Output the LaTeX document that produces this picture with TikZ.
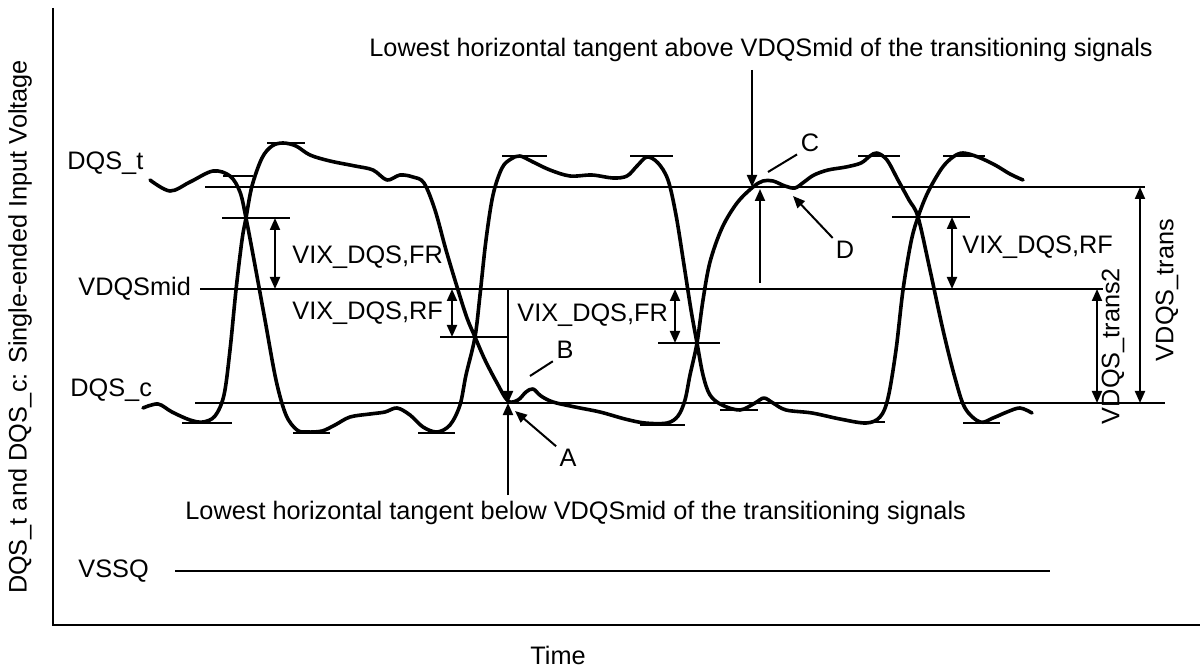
\documentclass[tikz,border=0pt]{standalone}
\usepackage{fontspec}
\setmainfont{Liberation Sans}
\usetikzlibrary{arrows.meta}

\begin{document}
\begin{tikzpicture}[x=0.5pt,y=-0.5pt,
		every node/.style={font=\fontsize{12.65}{15}\selectfont, inner sep=0pt},
		wave/.style={line width=1.8pt, line join=round, line cap=round},
		level/.style={line width=0.9pt},
		dim/.style={line width=1pt, {Triangle[length=6pt,width=5pt]}-{Triangle[length=6pt,width=5pt]}},
		pointer/.style={line width=1pt, -{Triangle[length=6pt,width=5pt]}}]
		\useasboundingbox (0,0) rectangle (1200,668);
		% axes
		\coordinate (ytop) at (53,8);
		\coordinate (org) at (53,625);
		\coordinate (xend) at (1200,625);
		\draw[line width=1.2pt] (ytop) -- (org) -- (xend);
		\node (ylab) [rotate=90] at (20,327) {DQS\_t and DQS\_c: Single-ended Input Voltage};
		\node (time) at (558,655) {Time};
		% level names
		\node (dqst) [anchor=west] at (67,163) {DQS\_t};
		\node (vmid) [anchor=west] at (78,289) {VDQSmid};
		\node (dqsc) [anchor=west] at (70,390) {DQS\_c};
		\node (vssq) [anchor=west] at (78,571) {VSSQ};
		% level lines
		\coordinate (hi0) at (205,187);   \coordinate (hi1) at (1145,187);
		\coordinate (mid0) at (200,289);  \coordinate (mid1) at (1103,289);
		\coordinate (lo0) at (195,403);   \coordinate (lo1) at (1165,403);
		\coordinate (ss0) at (175,571);   \coordinate (ss1) at (1050,571);
		\draw[level] (hi0) -- (hi1);
		\draw[level] (mid0) -- (mid1);
		\draw[level] (lo0) -- (lo1);
		\draw[line width=1.2pt] (ss0) -- (ss1);
		% the two signals
		\draw[wave] plot[smooth, tension=0.55] coordinates {(150,180) (170,191) (190,182) (213,171) (230,176) (240,192) (246,218) (254,260) (265,320) (276,380) (286,415) (297,430) (307,432) (322,431) (335,425) (350,417) (370,414) (385,412) (397,408) (410,415) (423,427) (437,432) (450,425) (460,405) (466,375) (475,337) (480,295) (486,240) (493,195) (502,168) (511,159) (520,156) (533,162) (550,170) (570,176) (592,175) (613,178) (627,176) (637,166) (647,157) (658,163) (668,180) (676,215) (684,265) (691,310) (697,343) (703,375) (710,395) (722,405) (740,410) (755,403) (764,398) (773,403) (786,410) (812,413) (840,419) (866,423) (880,417) (888,398) (896,350) (903,290) (911,242) (918,217) (928,192) (942,168) (953,157) (963,153) (978,157) (995,165) (1010,174) (1023,180)};
		\draw[wave] plot[smooth, tension=0.55] coordinates {(143,408) (158,404) (172,412) (190,420) (203,422) (215,416) (224,395) (230,350) (236,290) (242,240) (246,218) (252,186) (262,158) (272,146) (283,143) (296,146) (310,155) (330,161) (355,166) (373,170) (387,180) (400,175) (413,177) (424,183) (435,210) (446,250) (458,290) (467,318) (475,337) (485,360) (497,383) (508,401) (518,400) (526,392) (533,389) (541,396) (553,402) (575,407) (600,412) (625,419) (645,423) (667,423) (678,416) (685,400) (690,375) (697,343) (703,300) (710,262) (722,228) (737,203) (753,187) (763,181) (773,181) (785,186) (795,188) (804,182) (814,175) (828,170) (846,167) (861,163) (870,156) (877,153) (887,160) (898,180) (909,200) (918,217) (930,270) (943,330) (955,378) (965,408) (980,422) (993,418) (1007,412) (1020,408) (1032,413)};
		% tangent ticks
		\foreach \xa/\xb/\yy in {223/253/176, 267/305/143, 182/232/423, 293/330/433, 418/455/433,
				502/547/156, 630/673/156, 640/685/425, 720/758/410, 850/885/422, 858/900/156,
				943/985/156, 963/1000/423}
		\draw[level] (\xa,\yy) -- (\xb,\yy);
		% crossing levels
		\coordinate (xa0) at (222,218);  \coordinate (xa1) at (290,218);
		\coordinate (xb0) at (440,337);  \coordinate (xb1) at (508,337);
		\coordinate (xc0) at (658,343);  \coordinate (xc1) at (720,343);
		\coordinate (xd0) at (892,217);  \coordinate (xd1) at (970,217);
		\draw[level] (xa0) -- (xa1);
		\draw[level] (xb0) -- (xb1);
		\draw[level] (xc0) -- (xc1);
		\draw[level] (xd0) -- (xd1);
		% VIX arrows
		\coordinate (fra) at (275,218);  \coordinate (frb) at (275,289);
		\coordinate (rfa) at (452,289);  \coordinate (rfb) at (452,337);
		\coordinate (frc) at (675,289);  \coordinate (frd) at (675,343);
		\coordinate (rfc) at (952,217);  \coordinate (rfd) at (952,289);
		\draw[dim] (fra) -- (frb);
		\draw[dim] (rfa) -- (rfb);
		\draw[dim] (frc) -- (frd);
		\draw[dim] (rfc) -- (rfd);
		\node (vixfr1) [anchor=west] at (292,257) {VIX\_DQS,FR};
		\node (vixrf1) [anchor=west] at (292,313) {VIX\_DQS,RF};
		\node (vixfr2) [anchor=west] at (517,315) {VIX\_DQS,FR};
		\node (vixrf2) [anchor=west] at (962,247) {VIX\_DQS,RF};
		% VDQS_trans arrows
		\coordinate (tr2a) at (1097,289);  \coordinate (tr2b) at (1097,403);
		\coordinate (tra) at (1140,187);   \coordinate (trb) at (1140,403);
		\draw[dim] (tr2a) -- (tr2b);
		\draw[dim] (tra) -- (trb);
		\node (trans2) [rotate=90] at (1113,346) {VDQS\_trans2};
		\node (trans) [rotate=90] at (1167,290) {VDQS\_trans};
		% lowest tangent below
		\node (lowtxt) [anchor=west] at (185,513) {Lowest horizontal tangent below VDQSmid of the transitioning signals};
		\coordinate (ptA) at (508,403);
		\coordinate (ptAm) at (508,289);
		\coordinate (ptAb) at (508,495);
		\draw[pointer] (ptAm) -- (ptA);
		\draw[pointer] (ptAb) -- (ptA);
		\node (la) at (568,458) {A};
		\node (lb) at (565,350) {B};
		\coordinate (tipA) at (515,411);
		\coordinate (tipB) at (530,376);
		\draw[pointer, shorten <=2pt] (la.north west) -- (tipA);
		\draw[line width=1pt, shorten <=2pt] (lb.south west) -- (tipB);
		% lowest tangent above
		\node (uptxt) [anchor=west] at (369,50) {Lowest horizontal tangent above VDQSmid of the transitioning signals};
		\coordinate (ptC) at (752,187);
		\coordinate (ptCt) at (752,70);
		\coordinate (ptCu) at (760,189);
		\coordinate (ptCm) at (760,283);
		\draw[pointer] (ptCt) -- (ptC);
		\draw[pointer] (ptCm) -- (ptCu);
		\node (lc) at (810,143) {C};
		\node (ld) at (845,250) {D};
		\coordinate (tipC) at (768,172);
		\coordinate (tipD) at (793,196);
		\draw[line width=1pt, shorten <=2pt] (lc.south west) -- (tipC);
		\draw[pointer, shorten <=2pt] (ld.north west) -- (tipD);
\end{tikzpicture}
\end{document}
